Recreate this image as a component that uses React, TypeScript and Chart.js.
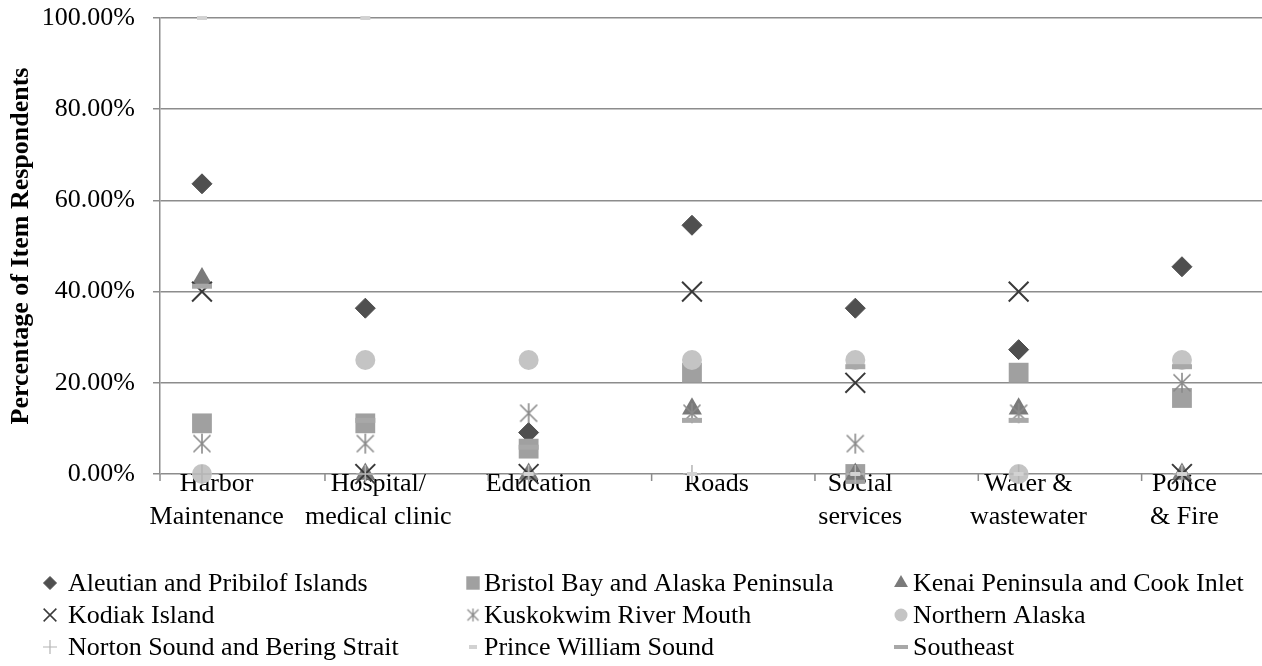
import React, { useEffect, useRef } from 'react';
import { Chart, registerables } from 'chart.js';
import { drawPoint } from 'chart.js/helpers';

Chart.register(...registerables);

const categories: string[][] = [
  ['Harbor', 'Maintenance'],
  ['Hospital/', 'medical clinic'],
  ['Education'],
  ['Roads'],
  ['Social', 'services'],
  ['Water &', 'wastewater'],
  ['Police', '& Fire'],
];

const aleutian = [63.64, 36.36, 9.09, 54.55, 36.36, 27.27, 45.45];
const bristol = [11.11, 11.11, 5.56, 22.22, 0, 22.22, 16.67];
const kenai = [42.86, 0, 0, 14.29, 0, 14.29, 0];
const kodiak = [40, 0, 0, 40, 20, 40, 0];
const kuskokwim = [6.67, 6.67, 13.33, 13.33, 6.67, 13.33, 20];
const northern = [0, 25, 25, 25, 25, 0, 25];
const norton = [0, 0, 0, 0, 0, 0, 0];
const princeWilliam = [100, 100, 0, 0, 0, 0, 0];
const southeast = [41.18, 11.76, 5.88, 11.76, 23.53, 11.76, 23.53];

const seriesNames = [
  'Aleutian and Pribilof Islands',
  'Bristol Bay and Alaska Peninsula',
  'Kenai Peninsula and Cook Inlet',
  'Kodiak Island',
  'Kuskokwim River Mouth',
  'Northern Alaska',
  'Norton Sound and Bering Strait',
  'Prince William Sound',
  'Southeast',
];

const yTickValues = [0, 20, 40, 60, 80, 100];
const yTitle = 'Percentage of Item Respondents';

// label horizontal nudge (in category units) to follow the reference's label placement
const labelShift = [0.09, 0.08, 0.06, 0.15, 0.03, 0.06, 0.015];

const FONT = '"Liberation Serif", "Times New Roman", serif';

function makeAsterisk(size: number, color: string, lw: number) {
  const c = document.createElement('canvas');
  c.width = size;
  c.height = size;
  const g = c.getContext('2d')!;
  g.strokeStyle = color;
  g.lineWidth = lw;
  const m = size / 2;
  const r = size / 2 - 1;
  const d = r * 0.85;
  g.beginPath();
  g.moveTo(m, m - r);
  g.lineTo(m, m + r);
  g.moveTo(m - d, m - d);
  g.lineTo(m + d, m + d);
  g.moveTo(m + d, m - d);
  g.lineTo(m - d, m + d);
  g.stroke();
  return c;
}

export default function App() {
  const ref = useRef<HTMLCanvasElement>(null);

  useEffect(() => {
    document.body.style.margin = '0';
    document.body.style.overflow = 'hidden';
    const canvas = ref.current!;
    const bigStar = makeAsterisk(22, '#8a8a8a', 1.6);
    const smallStar = makeAsterisk(15, '#8a8a8a', 1.3);

    const styles = [
      { pointStyle: 'rectRot', r: 10, bg: '#4f4f4f', bc: '#4f4f4f', bw: 1, lr: 6.5, lbw: 1 },
      { pointStyle: 'rect', r: 14, bg: '#a0a0a0', bc: '#a0a0a0', bw: 0, lr: 9.5, lbw: 0 },
      { pointStyle: 'triangle', r: 11.5, bg: '#7a7a7a', bc: '#7a7a7a', bw: 0, lr: 8, lbw: 0 },
      { pointStyle: 'crossRot', r: 14, bg: '#3a3a3a', bc: '#3a3a3a', bw: 2, lr: 9, lbw: 1.5 },
      { pointStyle: bigStar, r: 11, bg: '#8a8a8a', bc: '#8a8a8a', bw: 0, lr: 7, lbw: 0, small: smallStar },
      { pointStyle: 'circle', r: 10, bg: '#c4c4c4', bc: '#c4c4c4', bw: 0, lr: 6.5, lbw: 0 },
      { pointStyle: 'cross', r: 9, bg: '#b4b4b4', bc: '#b4b4b4', bw: 1.5, lr: 7, lbw: 1.2 },
      { pointStyle: 'line', r: 5, bg: '#d2d2d2', bc: '#d2d2d2', bw: 4, lr: 4, lbw: 4 },
      { pointStyle: 'line', r: 10, bg: '#a8a8a8', bc: '#a8a8a8', bw: 5, lr: 7, lbw: 4 },
    ];
    const seriesValues = [aleutian, bristol, kenai, kodiak, kuskokwim, northern, norton, princeWilliam, southeast];

    const datasets = seriesValues.map((vals, i) => ({
      label: seriesNames[i],
      data: vals.map((v, idx) => ({ x: idx, y: v })),
      showLine: false,
      pointStyle: styles[i].pointStyle as any,
      pointRadius: styles[i].r,
      pointBackgroundColor: styles[i].bg,
      pointBorderColor: styles[i].bc,
      pointBorderWidth: styles[i].bw,
      order: 20 - i,
      clip: false as any,
    }));

    const extras = {
      id: 'extras',
      afterDraw(chart: any) {
        const ctx = chart.ctx as CanvasRenderingContext2D;
        const xs = chart.scales.x;
        const area = chart.chartArea;
        ctx.save();
        // category boundary tick marks
        ctx.strokeStyle = '#8c8c8c';
        ctx.lineWidth = 1.5;
        ctx.beginPath();
        ctx.moveTo(area.left, area.bottom);
        ctx.lineTo(area.left, area.bottom + 7);
        for (let k = 0; k < categories.length - 1; k++) {
          const px = xs.getPixelForValue(k + 0.753);
          ctx.moveTo(px, area.bottom);
          ctx.lineTo(px, area.bottom + 7);
        }
        ctx.stroke();

        // legend grid
        const colMarker = [50, 473, 901];
        const colText = [68, 484, 913];
        const rowY = [583, 615, 647];
        ctx.font = '26px ' + FONT;
        ctx.textBaseline = 'middle';
        ctx.textAlign = 'left';
        seriesNames.forEach((name, i) => {
          const col = i % 3;
          const row = Math.floor(i / 3);
          const s: any = styles[i];
          const mx = colMarker[col];
          const my = rowY[row];
          ctx.fillStyle = s.bg;
          ctx.strokeStyle = s.bc;
          ctx.lineWidth = s.lbw;
          drawPoint(ctx, {
            pointStyle: s.small ? s.small : s.pointStyle,
            radius: s.lr,
            borderWidth: s.lbw,
            rotation: 0,
          } as any, mx, my);
          ctx.fillStyle = '#000';
          ctx.fillText(name, colText[col], my + 1);
        });
        ctx.restore();
      },
    };

    const chart = new Chart(canvas, {
      type: 'scatter',
      data: { datasets: datasets as any },
      options: {
        animation: false,
        responsive: false,
        events: [],
        layout: { autoPadding: false, padding: { top: 18, right: 0, left: 0, bottom: 0 } },
        plugins: { legend: { display: false }, tooltip: { enabled: false } },
        scales: {
          x: {
            type: 'linear',
            min: -0.257,
            max: 6.49,
            grid: { display: false },
            border: { display: false },
            afterBuildTicks: (s: any) => {
              s.ticks = categories.map((_, i) => ({ value: i + labelShift[i] }));
            },
            afterFit: (s: any) => {
              s.height = 192;
            },
            ticks: {
              autoSkip: false,
              maxRotation: 0,
              minRotation: 0,
              padding: -14,
              color: '#000',
              font: { family: FONT, size: 26, lineHeight: 1.27 },
              callback: (_v: any, idx: number) => categories[idx],
            },
          },
          y: {
            min: 0,
            max: 100,
            afterBuildTicks: (s: any) => {
              s.ticks = yTickValues.map((v) => ({ value: v }));
            },
            afterFit: (s: any) => {
              s.width = 160;
              s.paddingTop = 0;
              s.paddingBottom = 0;
            },
            grid: { color: '#8c8c8c', lineWidth: 1.5, tickLength: 7 },
            border: { color: '#8c8c8c', width: 1.5 },
            ticks: {
              padding: 18,
              color: '#000',
              font: { family: FONT, size: 26 },
              callback: (v: any) => Number(v).toFixed(2) + '%',
            },
            title: {
              display: true,
              text: yTitle,
              color: '#000',
              font: { family: FONT, size: 26, weight: 'bold' },
              padding: { top: 6, bottom: 0 },
            },
          },
        },
      },
      plugins: [extras],
    });
    return () => chart.destroy();
  }, []);

  return (
    <div style={{ position: 'absolute', left: 0, top: 0, width: 1262, height: 666, background: '#fff', overflow: 'hidden' }}>
      <canvas ref={ref} width={1262} height={666} style={{ width: 1262, height: 666, display: 'block' }} />
    </div>
  );
}
